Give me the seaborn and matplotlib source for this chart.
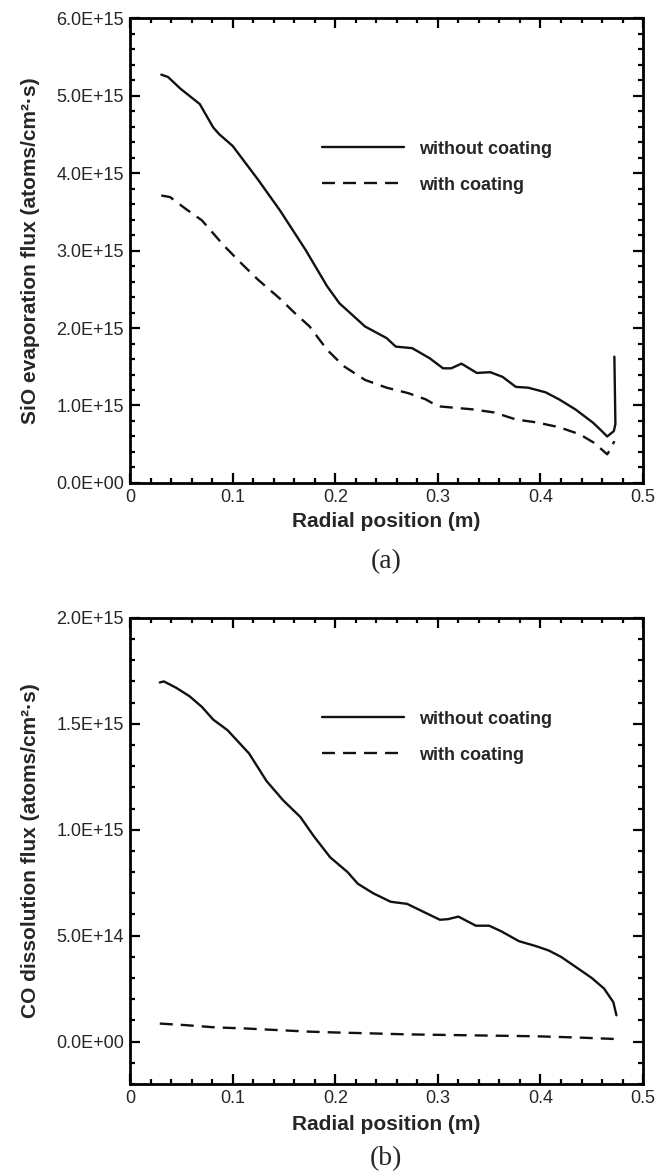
import matplotlib
matplotlib.use('Agg')
import matplotlib.pyplot as plt
import seaborn as sns
import pandas as pd
from matplotlib.ticker import MultipleLocator, FuncFormatter

# --- данные ---
# (a) SiO evaporation flux, 1e15 atoms/(cm2 s)
sio_x_plain = [0.0305, 0.037, 0.049, 0.068, 0.081, 0.087, 0.10, 0.125, 0.146, 0.171,
               0.192, 0.204, 0.229, 0.25, 0.259, 0.275, 0.292, 0.305, 0.313, 0.323,
               0.338, 0.351, 0.363, 0.376, 0.388, 0.405, 0.418, 0.434, 0.451, 0.459,
               0.465, 0.4715, 0.473, 0.4725, 0.472]
sio_y_plain = [5.27, 5.24, 5.09, 4.89, 4.59, 4.50, 4.35, 3.91, 3.52, 3.01,
               2.54, 2.32, 2.02, 1.87, 1.76, 1.74, 1.61, 1.48, 1.48, 1.54,
               1.42, 1.43, 1.37, 1.24, 1.23, 1.17, 1.08, 0.95, 0.78, 0.68,
               0.60, 0.67, 0.76, 1.20, 1.63]
sio_x_coat = [0.0305, 0.039, 0.054, 0.070, 0.091, 0.108, 0.125, 0.146, 0.160, 0.175,
              0.192, 0.208, 0.229, 0.25, 0.271, 0.288, 0.30, 0.317, 0.334, 0.355,
              0.376, 0.397, 0.418, 0.438, 0.452, 0.459, 0.465, 0.468, 0.472]
sio_y_coat = [3.71, 3.69, 3.54, 3.39, 3.07, 2.84, 2.62, 2.38, 2.20, 2.02,
              1.72, 1.51, 1.33, 1.23, 1.16, 1.08, 0.99, 0.97, 0.95, 0.91,
              0.82, 0.78, 0.72, 0.63, 0.52, 0.44, 0.37, 0.43, 0.54]

# (b) CO dissolution flux, 1e15 atoms/(cm2 s)
co_x_plain = [0.029, 0.033, 0.045, 0.058, 0.07, 0.081, 0.095, 0.116, 0.133, 0.149,
              0.166, 0.179, 0.195, 0.212, 0.222, 0.237, 0.254, 0.27, 0.287, 0.302,
              0.31, 0.32, 0.337, 0.35, 0.362, 0.379, 0.396, 0.408, 0.42, 0.433,
              0.45, 0.462, 0.471, 0.474]
co_y_plain = [1.695, 1.70, 1.67, 1.63, 1.58, 1.52, 1.47, 1.36, 1.23, 1.14,
              1.06, 0.97, 0.87, 0.80, 0.745, 0.70, 0.66, 0.65, 0.61, 0.575,
              0.578, 0.59, 0.547, 0.547, 0.52, 0.474, 0.45, 0.43, 0.40, 0.357,
              0.30, 0.25, 0.186, 0.124]
co_x_coat = [0.029, 0.053, 0.083, 0.112, 0.145, 0.174, 0.2, 0.233, 0.27, 0.312,
             0.354, 0.396, 0.437, 0.474]
co_y_coat = [0.085, 0.078, 0.067, 0.062, 0.054, 0.047, 0.043, 0.039, 0.034, 0.031,
             0.028, 0.025, 0.019, 0.012]

labels = ['without coating', 'with coating']

sns.set_style('ticks')
plt.rcParams['font.family'] = ['Liberation Sans', 'DejaVu Sans']


def sci_fmt(v, pos):
    return f"{v:.1E}"


def x_fmt(v, pos):
    return "0" if abs(v) < 1e-9 else f"{v:g}"


def style_axes(ax, ymin, ymax, ymajor, yminor):
    ax.set_xlim(0, 0.5)
    ax.set_ylim(ymin, ymax)
    ax.xaxis.set_major_locator(MultipleLocator(0.1))
    ax.xaxis.set_minor_locator(MultipleLocator(0.02))
    ax.yaxis.set_major_locator(MultipleLocator(ymajor))
    ax.yaxis.set_minor_locator(MultipleLocator(yminor))
    ax.xaxis.set_major_formatter(FuncFormatter(x_fmt))
    ax.yaxis.set_major_formatter(FuncFormatter(sci_fmt))
    ax.tick_params(which='both', direction='in', top=True, right=True,
                   width=1.6, labelsize=13, color='black')
    ax.tick_params(which='major', length=7, pad=4.5)
    ax.tick_params(which='minor', length=3.5)
    for s in ax.spines.values():
        s.set_linewidth(2)
        s.set_color('black')


def draw(ax, xp, yp, xc, yc, scale):
    df_p = pd.DataFrame({'x': xp, 'y': [v * scale for v in yp]})
    df_c = pd.DataFrame({'x': xc, 'y': [v * scale for v in yc]})
    sns.lineplot(data=df_p, x='x', y='y', ax=ax, color='#111111', lw=1.7,
                 sort=False, estimator=None, label=labels[0])
    sns.lineplot(data=df_c, x='x', y='y', ax=ax, color='#111111', lw=1.7,
                 sort=False, estimator=None, label=labels[1], linestyle='--')
    ax.lines[1].set_dashes((5.5, 3.4))


fig = plt.figure(figsize=(6.72, 11.74), dpi=100)
ax1 = fig.add_axes([0.1935, 0.5886, 0.7635, 0.396])
ax2 = fig.add_axes([0.1935, 0.0767, 0.7635, 0.397])

draw(ax1, sio_x_plain, sio_y_plain, sio_x_coat, sio_y_coat, 1e15)
draw(ax2, co_x_plain, co_y_plain, co_x_coat, co_y_coat, 1e15)

style_axes(ax1, 0, 6e15, 1e15, 2e14)
style_axes(ax2, -2e14, 2e15, 5e14, 1e14)

ax1.set_ylabel('SiO evaporation flux (atoms/cm²·s)', fontsize=15, fontweight='bold')
ax2.set_ylabel('CO dissolution flux (atoms/cm²·s)', fontsize=15, fontweight='bold')
for ax, ly in [(ax1, -0.062), (ax2, -0.066)]:
    ax.set_xlabel('Radial position (m)', fontsize=15, fontweight='bold')
    ax.xaxis.set_label_coords(0.5, ly)
    ax.yaxis.set_label_coords(-0.175, 0.5)

for ax, ty in [(ax1, 0.736), (ax2, 0.801)]:
    leg = ax.legend(loc='upper left', bbox_to_anchor=(0.375, ty), frameon=False,
                    handlelength=4.5, handletextpad=0.85, labelspacing=1.05,
                    borderpad=0, borderaxespad=0,
                    prop={'weight': 'bold', 'size': 13})

fig.text(0.575, 1 - 562 / 1174, '(a)', ha='center', va='center', fontsize=20,
         family=['Liberation Serif', 'DejaVu Serif'])
fig.text(0.575, 1 - 1159 / 1174, '(b)', ha='center', va='center', fontsize=20,
         family=['Liberation Serif', 'DejaVu Serif'])

fig.savefig('out.png', dpi=100, facecolor='white')
